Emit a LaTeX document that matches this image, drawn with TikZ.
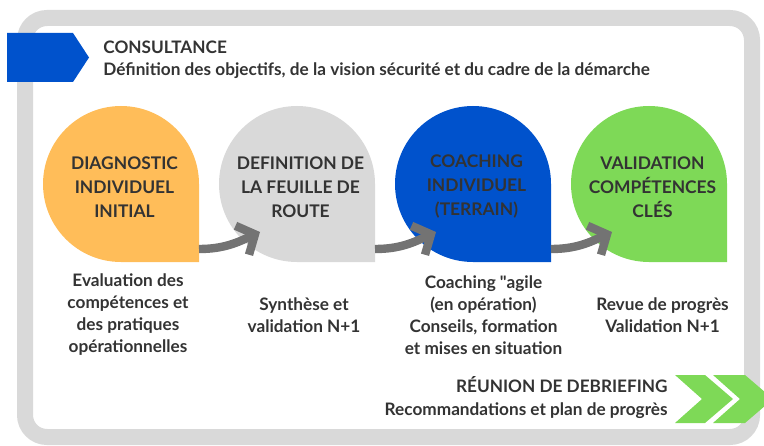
\documentclass[tikz,border=0pt]{standalone}
\usepackage{fontspec}
\setmainfont{Lato}[Ligatures=TeXOff]
\usetikzlibrary{arrows.meta}

\definecolor{framegray}{HTML}{D9D9D9}
\definecolor{txtgray}{HTML}{333333}
\definecolor{arrowgray}{HTML}{737373}
\definecolor{stepblue}{HTML}{0052CC}
\definecolor{steporange}{HTML}{FFBD59}
\definecolor{stepgreen}{HTML}{7ED957}
\definecolor{stepgray}{HTML}{D9D9D9}

\tikzset{
  steptext/.style={text=txtgray, align=center, font=\bfseries\fontsize{8.7}{12}\selectfont},
  note/.style={text=txtgray, align=center, font=\bfseries\fontsize{8.6}{11}\selectfont},
  header/.style={text=txtgray, inner sep=0pt, font=\bfseries\fontsize{8.6}{11}\selectfont},
  flow/.style={arrowgray, line width=4.2pt, -{Straight Barb[length=7pt, width=16pt]}},
}

\begin{document}
\begin{tikzpicture}[x=0.5pt, y=0.5pt]
\clip (0,0) rectangle (764,445);

% outer frame
\draw[framegray, line width=8pt, rounded corners=11pt] (25,8) rectangle (752,427);

% top banner
\fill[stepblue] (7,412) -- (73,412) -- (89,387.5) -- (73,363) -- (7,363) -- cycle;
\node[header, anchor=base west] (cons) at (103,391) {CONSULTANCE};
\node[header, anchor=base west] (consdef) at (103,369) {Définition des objectifs, de la vision sécurité et du cadre de la démarche};

% the four steps
\foreach \i/\cx/\col in {1/121/steporange, 2/297/stepgray, 3/473/stepblue, 4/649/stepgreen} {
  \coordinate (s\i) at (\cx,261);
  \fill[\col] ([shift={(78,0)}]s\i) -- ++(0,-78) -- ++(-78,0)
    arc[start angle=270, end angle=0, radius=78] -- cycle;
}
\node[steptext] (t1) at (124.5,258) {DIAGNOSTIC\\INDIVIDUEL\\INITIAL};
\node[steptext] (t2) at (300.5,258) {DEFINITION DE\\LA FEUILLE DE\\ROUTE};
\node[steptext] (t3) at (476.5,258) {COACHING\\INDIVIDUEL\\(TERRAIN)};
\node[steptext] (t4) at (652.5,258) {VALIDATION\\COMPÉTENCES\\CLÉS};

% arrows between steps
\foreach \a/\b in {1/2, 2/3, 3/4}
  \draw[flow] ([shift={(78,-65)}]s\a) to[out=0, in=205] ([shift={(-37,-48)}]s\b);

% texts below
\node[note] (n1) at (128,130) {Evaluation des\\compétences et\\des pratiques\\opérationnelles};
\node[note] (n2) at (304,130) {Synthèse et\\validation N+1};
\node[note] (n3) at (483.5,130) {Coaching "agile\\(en opération)\\Conseils, formation\\et mises en situation};
\node[note] (n4) at (662.5,130) {Revue de progrès\\Validation N+1};

% bottom banner
\node[header, anchor=base east] (reun) at (668,53) {RÉUNION DE DEBRIEFING};
\node[header, anchor=base east] (reco) at (668,30) {Recommandations et plan de progrès};
\fill[stepgreen] (675,70) -- (705,70) -- (733,46) -- (705,22) -- (675,22) -- (702,46) -- cycle;
\fill[stepgreen] (713,70) -- (745,70) -- (773,46) -- (745,22) -- (713,22) -- (740,46) -- cycle;
\end{tikzpicture}
\end{document}
